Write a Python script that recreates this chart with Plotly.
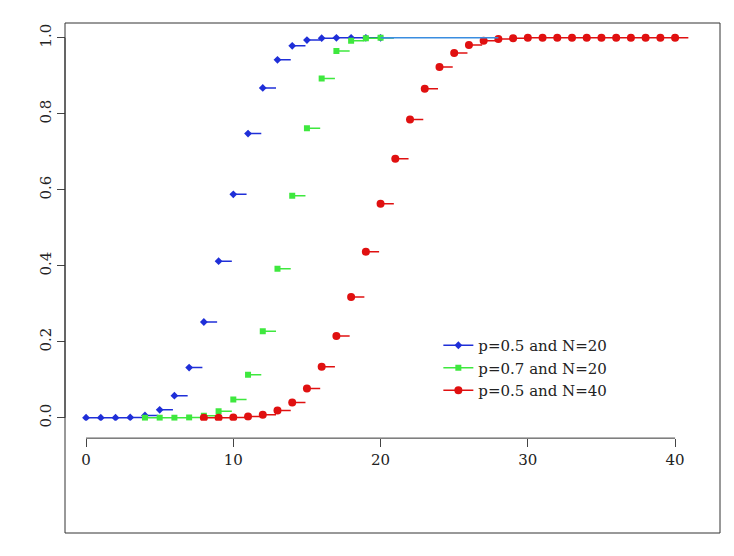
import plotly.graph_objects as go

k_blue = list(range(0, 21))
cdf_blue = [0.0, 0.0, 0.0, 0.001, 0.006, 0.021, 0.058, 0.132, 0.252, 0.412, 0.588,
            0.748, 0.868, 0.942, 0.979, 0.994, 0.999, 1.0, 1.0, 1.0, 1.0]
k_green = list(range(4, 21))
cdf_green = [0.0, 0.0, 0.0, 0.001, 0.005, 0.017, 0.048, 0.113, 0.228, 0.392, 0.584,
             0.762, 0.893, 0.965, 0.992, 0.999, 1.0]
k_red = list(range(8, 41))
cdf_red = [0.0, 0.0, 0.001, 0.003, 0.008, 0.019, 0.040, 0.077, 0.134, 0.215, 0.318,
           0.437, 0.563, 0.682, 0.785, 0.866, 0.923, 0.960, 0.981, 0.992, 0.997, 0.999,
           1.0, 1.0, 1.0, 1.0, 1.0, 1.0, 1.0, 1.0, 1.0, 1.0, 1.0]

series = [
    ("p=0.5 and N=20", k_blue, cdf_blue, "#1f2fd8", "diamond", 6),
    ("p=0.7 and N=20", k_green, cdf_green, "#3ee83e", "square", 6),
    ("p=0.5 and N=40", k_red, cdf_red, "#e01010", "circle", 8),
]

fig = go.Figure()
for name, ks, vs, col, sym, sz in series:
    xs, ys = [], []
    for k, v in zip(ks, vs):
        xs += [k, k + 0.9, None]
        ys += [v, v, None]
    fig.add_trace(go.Scatter(x=xs, y=ys, mode="lines", line=dict(color=col, width=1.5),
                             showlegend=False, hoverinfo="skip"))
    fig.add_trace(go.Scatter(x=ks, y=vs, mode="markers", showlegend=False,
                             marker=dict(color=col, symbol=sym, size=sz)))
fig.add_trace(go.Scatter(x=[20, 28], y=[1.0, 1.0], mode="lines",
                         line=dict(color="#3a8de0", width=1.5), showlegend=False))
for name, ks, vs, col, sym, sz in series:
    fig.add_trace(go.Scatter(x=[None], y=[None], mode="lines+markers", name=name,
                             line=dict(color=col, width=1.5),
                             marker=dict(color=col, symbol=sym, size=sz)))

fig.update_layout(
    width=734, height=556, paper_bgcolor="white", plot_bgcolor="white",
    margin=dict(l=57, r=22, t=15, b=31),
    font=dict(family="DejaVu Serif", size=15, color="#222"),
    xaxis=dict(range=[-1.43, 43.05], tickvals=[0, 10, 20, 30, 40], showgrid=False,
               zeroline=False, ticks="outside", ticklen=8, domain=[0, 1],
               anchor="free", position=0.186, showline=False),
    yaxis=dict(range=[-0.008, 1.039], tickvals=[0, 0.2, 0.4, 0.6, 0.8, 1.0],
               ticktext=["0.0", "0.2", "0.4", "0.6", "0.8", "1.0"], tickangle=-90,
               showgrid=False, zeroline=False, ticks="outside", ticklen=8,
               domain=[0.22, 1], anchor="free", position=0, showline=False),
    legend=dict(x=0.57, y=0.40, xanchor="left", yanchor="top",
                bgcolor="rgba(0,0,0,0)", font=dict(size=15)),
    shapes=[
        dict(type="rect", xref="paper", yref="paper", x0=0, x1=1, y0=0, y1=1,
             line=dict(color="#333", width=1)),
        dict(type="line", xref="x", yref="paper", x0=0, x1=40, y0=0.186, y1=0.186,
             line=dict(color="#333", width=1)),
        dict(type="line", xref="paper", yref="y", x0=0, x1=0, y0=0, y1=1,
             line=dict(color="#333", width=1)),
    ],
)
fig.write_html("out.html")
